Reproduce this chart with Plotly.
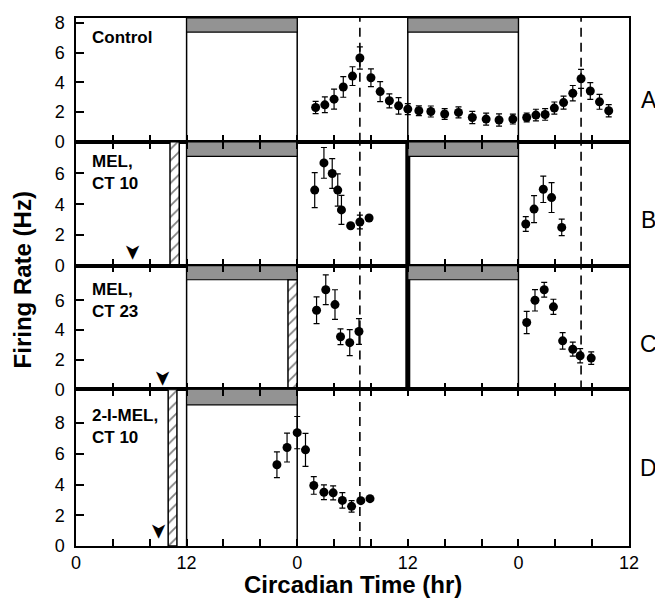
import plotly.graph_objects as go
from plotly.subplots import make_subplots

# ---------------- data ----------------
# x = cumulative circadian hours (0..60); tick labels alternate 0 / 12
tick_vals = list(range(0, 61, 4))
tick_text = ["0" if v % 24 == 0 else ("12" if v % 12 == 0 else "") for v in tick_vals]

A_x = [26, 27, 28, 29, 30, 30.8, 32, 33, 34, 35, 36, 37.2, 38.5, 40, 41.5, 43, 44.5, 45.9,
       47.4, 48.9, 49.9, 50.9, 51.9, 52.9, 53.9, 54.8, 55.8, 56.8, 57.8]
A_y = [2.31, 2.49, 2.87, 3.69, 4.42, 5.64, 4.31, 3.38, 2.76, 2.42, 2.2, 2.09, 2.04, 1.87,
       1.98, 1.64, 1.53, 1.47, 1.53, 1.64, 1.8, 1.84, 2.27, 2.64, 3.27, 4.24, 3.42, 2.69, 2.09]
A_err = [0.41, 0.53, 0.67, 0.69, 0.63, 0.75, 0.6, 0.67, 0.47, 0.55, 0.37, 0.33, 0.37, 0.36,
         0.37, 0.41, 0.4, 0.41, 0.33, 0.3, 0.39, 0.39, 0.41, 0.44, 0.52, 0.64, 0.56, 0.5, 0.41]

B_x = [25.9, 26.9, 27.8, 28.4, 28.8, 29.8, 30.8, 31.8, 48.8, 49.7, 50.7, 51.6, 52.7]
B_y = [4.92, 6.69, 6.0, 4.92, 3.63, 2.6, 2.84, 3.1, 2.71, 3.68, 4.97, 4.43, 2.49]
B_err = [1.14, 1.0, 0.97, 1.05, 0.94, 0.0, 0.45, 0.0, 0.48, 0.88, 0.86, 0.97, 0.54]

C_x = [26.1, 27.1, 28.1, 28.7, 29.7, 30.7, 48.9, 49.8, 50.8, 51.8, 52.8, 53.9, 54.7, 55.9]
C_y = [5.33, 6.71, 5.71, 3.55, 3.15, 3.9, 4.51, 6.0, 6.71, 5.56, 3.27, 2.71, 2.27, 2.11]
C_err = [0.9, 1.0, 1.0, 0.53, 0.87, 0.87, 0.75, 0.72, 0.5, 0.51, 0.55, 0.47, 0.48, 0.42]

D_x = [21.8, 22.9, 24.0, 24.9, 25.8, 26.9, 27.9, 28.9, 29.9, 30.9, 31.9]
D_y = [5.29, 6.41, 7.38, 6.26, 3.94, 3.5, 3.46, 2.97, 2.58, 2.95, 3.08]
D_err = [0.84, 0.94, 1.05, 1.07, 0.57, 0.48, 0.46, 0.5, 0.38, 0.0, 0.0]

panel_labels = ["Control", "MEL,<br>CT 10", "MEL,<br>CT 23", "2-I-MEL,<br>CT 10"]
panel_letters = ["A", "B", "C", "D"]
y_max = [8.33, 8.06, 8.33, 10.19]
y_ticks = [[0, 2, 4, 6, 8], [0, 2, 4, 6], [0, 2, 4, 6], [0, 2, 4, 6, 8]]

# treatment pulses (start, end) per panel (None = no pulse)
pulses = [None, (10.2, 11.2), (23.0, 24.0), (10.0, 10.95)]
# injection arrow centre positions (x, y) per panel
arrows = [None, (6.2, 0.87), (9.44, 0.75), (9.03, 0.94)]
# subjective night bars per panel
nights = [[(12, 24), (36, 48)], [(12, 24), (36, 48)], [(12, 24), (36, 48)], [(12, 24)]]
# dark-phase boundaries drawn as vertical lines per panel
vlines = [[12, 24, 36, 48], [12, 24, 36, 48], [12, 24, 36, 48], [12, 24]]
thick_lines = [[], [36], [36], []]
# dashed reference (peak) times per panel
dashed = [[30.8, 54.8], [30.8, 54.8], [30.8, 54.8], [30.8]]

series = [(A_x, A_y, A_err), (B_x, B_y, B_err), (C_x, C_y, C_err), (D_x, D_y, D_err)]

# ---------------- figure ----------------
fig = make_subplots(rows=4, cols=1, shared_xaxes=True, vertical_spacing=0,
                    row_heights=[125, 125, 125, 158])

font_family = "Liberation Sans, Arial, Helvetica, sans-serif"

for i in range(4):
    r = i + 1
    xr = "x" if r == 1 else f"x{r}"
    yr = "y" if r == 1 else f"y{r}"
    ymax = y_max[i]
    band = 0.95 if r < 4 else 1.0

    # pulse (hatched)
    if pulses[i] is not None:
        x0, x1 = pulses[i]
        top = ymax
        for n0, n1 in nights[i]:
            if x0 >= n0 and x1 <= n1:
                top = ymax - band
        fig.add_trace(go.Bar(
            x=[(x0 + x1) / 2], y=[top], base=[0], width=[x1 - x0],
            marker=dict(color="white", line=dict(color="black", width=1.5),
                        pattern=dict(shape="/", fgcolor="black", bgcolor="white",
                                     size=8, solidity=0.22)),
            showlegend=False, hoverinfo="skip"), row=r, col=1)

    # night bars
    for n0, n1 in nights[i]:
        fig.add_shape(type="rect", x0=n0, x1=n1, y0=ymax - band, y1=ymax,
                      xref=xr, yref=yr, fillcolor="#939393",
                      line=dict(color="black", width=1.2), layer="below")

    # vertical phase lines
    for v in vlines[i]:
        w = 5 if v in thick_lines[i] else 1.5
        fig.add_shape(type="line", x0=v, x1=v, y0=0, y1=1, xref=xr, yref=f"{yr} domain",
                      line=dict(color="black", width=w), layer="below")
    if thick_lines[i] and r == 3:
        fig.add_shape(type="line", x0=36, x1=48, y0=0, y1=0, xref=xr, yref=f"{yr} domain",
                      line=dict(color="black", width=3), layer="below")

    # dashed lines
    for d in dashed[i]:
        fig.add_shape(type="line", x0=d, x1=d, y0=0, y1=1, xref=xr, yref=f"{yr} domain",
                      line=dict(color="black", width=1.6, dash="9px,6px"), layer="below")

    # data
    sx, sy, se = series[i]
    fig.add_trace(go.Scatter(
        x=sx, y=sy, mode="markers",
        marker=dict(color="black", size=9),
        error_y=dict(type="data", array=se, visible=True, color="black",
                     thickness=1.2, width=3),
        showlegend=False, hoverinfo="skip"), row=r, col=1)

    # injection arrow (notched arrowhead pointing down)
    if arrows[i] is not None:
        ax_, ay_ = arrows[i]
        fig.add_annotation(x=ax_, y=ay_, xref=xr, yref=yr, text="\u27A4", textangle=90,
                           showarrow=False, xanchor="center", yanchor="middle",
                           font=dict(size=21, color="black", family="DejaVu Sans"))

    # panel condition label
    lab_y = [7.0, 6.06, 6.0, 7.8][i]
    fig.add_annotation(x=1.5, y=lab_y, xref=xr, yref=yr, text=f"<b>{panel_labels[i]}</b>",
                       showarrow=False, xanchor="left", yanchor="middle", align="left",
                       font=dict(size=17, color="black", family=font_family))

    # axes
    fig.update_xaxes(range=[0, 60], tickvals=tick_vals,
                     ticktext=tick_text if r == 4 else [""] * len(tick_vals),
                     showticklabels=(r == 4),
                     ticks="inside", ticklen=7, tickwidth=1.5, tickcolor="black",
                     showline=True, linecolor="black", linewidth=1.5,
                     mirror=True if r == 1 else "ticks",
                     showgrid=False, zeroline=False,
                     tickfont=dict(size=18, color="black", family=font_family),
                     row=r, col=1)
    fig.update_yaxes(range=[0, ymax], tickvals=y_ticks[i],
                     ticks="inside", ticklen=8, tickwidth=1.5, tickcolor="black",
                     showline=True, linecolor="black", linewidth=1.5, mirror=True,
                     showgrid=False, zeroline=False, ticklabelstandoff=6,
                     tickfont=dict(size=18, color="black", family=font_family),
                     row=r, col=1)

# panel letters
letter_y = [0.844, 0.617, 0.383, 0.148]
for L, yy in zip(panel_letters, letter_y):
    fig.add_annotation(x=1.036, y=yy, xref="paper", yref="paper", text=L, showarrow=False,
                       xanchor="center", yanchor="middle",
                       font=dict(size=23, color="black", family=font_family))

# axis titles
fig.add_annotation(x=-0.0976, y=0.503, xref="paper", yref="paper",
                   text="<b>Firing Rate (Hz)</b>", textangle=-90, showarrow=False,
                   xanchor="center", yanchor="middle",
                   font=dict(size=24, color="black", family=font_family))
fig.add_annotation(x=0.5, y=-0.0995, xref="paper", yref="paper",
                   text="<b>Circadian Time (hr)</b>", showarrow=False,
                   xanchor="center", yanchor="bottom", borderpad=0,
                   font=dict(size=24, color="black", family=font_family))

# the page body adds an 8px offset, so the figure is sized to fit inside the window
fig.update_layout(width=655, height=592, margin=dict(l=68, r=34, t=5, b=54),
                  paper_bgcolor="white", plot_bgcolor="white", barmode="overlay",
                  showlegend=False, font=dict(family=font_family, color="black"))

fig.write_html("out.html")
